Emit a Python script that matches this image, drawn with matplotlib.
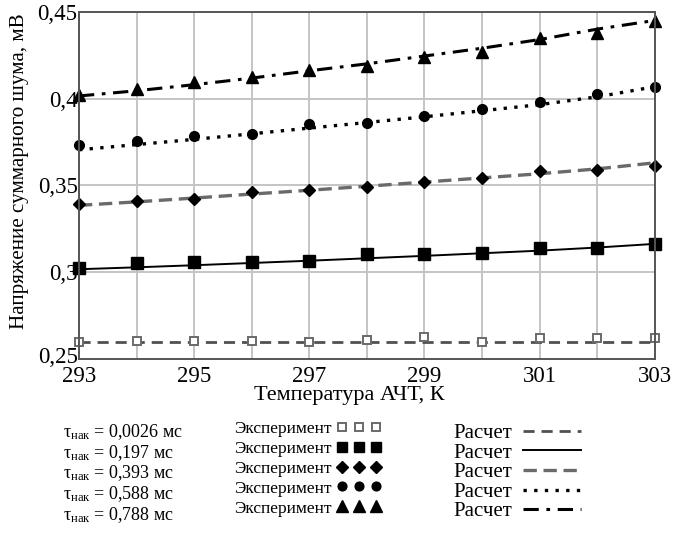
import matplotlib
matplotlib.use("Agg")
import matplotlib.pyplot as plt
import matplotlib.transforms as mtrans

plt.rcParams['font.family'] = ['Liberation Serif', 'DejaVu Serif']
plt.rcParams['mathtext.fontset'] = 'custom'
plt.rcParams['mathtext.rm'] = 'Liberation Serif'
plt.rcParams['mathtext.it'] = 'Liberation Serif:italic'

# температура АЧТ, К
temp = [293, 294, 295, 296, 297, 298, 299, 300, 301, 302, 303]

# эксперимент, мВ
exp1 = [0.2600, 0.2602, 0.2601, 0.2601, 0.2600, 0.2610, 0.2628, 0.2600, 0.2623, 0.2623, 0.2620]
exp2 = [0.3023, 0.3051, 0.3060, 0.3060, 0.3067, 0.3105, 0.3105, 0.3113, 0.3142, 0.3142, 0.3161]
exp3 = [0.3393, 0.3410, 0.3422, 0.3464, 0.3474, 0.3493, 0.3522, 0.3541, 0.3580, 0.3589, 0.3614]
exp4 = [0.3730, 0.3757, 0.3785, 0.3797, 0.3853, 0.3858, 0.3897, 0.3941, 0.3980, 0.4027, 0.4066]
exp5 = [0.4022, 0.4054, 0.4098, 0.4124, 0.4162, 0.4189, 0.4242, 0.4271, 0.4348, 0.4377, 0.4444]

# расчет, мВ
calc1 = [0.2598, 0.2598, 0.2598, 0.2598, 0.2598, 0.2598, 0.2598, 0.2598, 0.2598, 0.2598, 0.2598]
calc2 = [0.3017, 0.3028, 0.3040, 0.3053, 0.3066, 0.3080, 0.3094, 0.3109, 0.3124, 0.3142, 0.3163]
calc3 = [0.3385, 0.3405, 0.3427, 0.3450, 0.3472, 0.3495, 0.3519, 0.3543, 0.3567, 0.3595, 0.3630]
calc4 = [0.3705, 0.3735, 0.3765, 0.3797, 0.3830, 0.3862, 0.3895, 0.3930, 0.3965, 0.4010, 0.4068]
calc5 = [0.4015, 0.4045, 0.4080, 0.4118, 0.4160, 0.4200, 0.4245, 0.4290, 0.4340, 0.4400, 0.4450]

tau_labels = ["0,0026", "0,197", "0,393", "0,588", "0,788"]
yticks = [0.25, 0.30, 0.35, 0.40, 0.45]
ytick_labels = ["0,25", "0,3", "0,35", "0,4", "0,45"]

fig = plt.figure(figsize=(6.75, 5.35), dpi=100)
ax = fig.add_axes([0.117, 0.329, 0.853, 0.649])

grey = "#6a6a6a"
calc_lines = [
    ax.plot(temp, calc1, color="#505050", lw=2.0, ls=(0, (4, 2.5)))[0],
    ax.plot(temp, calc2, color="black", lw=1.4, ls="-")[0],
    ax.plot(temp, calc3, color=grey, lw=2.4, ls=(0, (4, 2)))[0],
    ax.plot(temp, calc4, color="black", lw=2.4, ls=(0, (1, 2.2)))[0],
    ax.plot(temp, calc5, color="black", lw=2.2, ls=(0, (5, 2.5, 1.2, 2.5)))[0],
]
exp_marks = [
    ax.plot(temp, exp1, ls="none", marker="s", ms=6, mfc="white", mec=grey, mew=1.4)[0],
    ax.plot(temp, exp2, ls="none", marker="s", ms=8, color="black")[0],
    ax.plot(temp, exp3, ls="none", marker="D", ms=6.5, color="black")[0],
    ax.plot(temp, exp4, ls="none", marker="o", ms=7, color="black")[0],
    ax.plot(temp, exp5, ls="none", marker="^", ms=9, color="black")[0],
]
for h in calc_lines + exp_marks:
    h.set_clip_on(False)

ax.set_xlim(293, 303)
ax.set_ylim(0.25, 0.45)
ax.set_xticks(range(293, 304, 2))
ax.set_xticks(range(294, 303, 2), minor=True)
ax.set_yticks(yticks)
ax.set_yticklabels(ytick_labels)
ax.grid(True, which="both", color="#c4c4c4", lw=1.4)
ax.set_axisbelow(True)
ax.tick_params(which="both", length=0, labelsize=16.5)
ax.tick_params(axis="y", pad=1)
ax.tick_params(axis="x", pad=5)
for s in ax.spines.values():
    s.set_color("#555555")
    s.set_linewidth(1.4)

# нижнюю подпись оси Y чуть выше, чтобы не наезжала на 293
lab0 = ax.get_yticklabels()[0]
lab0.set_transform(lab0.get_transform() +
                   mtrans.ScaledTranslation(0, 3 / 72, fig.dpi_scale_trans))

ax.set_xlabel("Температура АЧТ, К", fontsize=16)
ax.xaxis.set_label_coords(0.47, -0.077)
ax.set_ylabel("Напряжение суммарного шума, мВ", fontsize=15.2)
ax.yaxis.set_label_coords(-0.087, 0.54)

# подписи
tau_handles = [plt.Line2D([], [], ls="none") for _ in tau_labels]
fig.legend(tau_handles, ["τ$_{\\mathrm{нак}}$ = " + t + " мс" for t in tau_labels],
           loc="upper left", bbox_to_anchor=(0.082, 0.225), frameon=False,
           handlelength=0, handletextpad=0, fontsize=13, labelspacing=0.06,
           borderaxespad=0)
fig.legend(exp_marks, ["Эксперимент"] * 5, loc="upper left",
           bbox_to_anchor=(0.336, 0.227), frameon=False, markerfirst=False,
           numpoints=3, handlelength=2.6, handletextpad=0.3, fontsize=12.5,
           labelspacing=0.22, markerscale=0.9, borderaxespad=0)
fig.legend(calc_lines, ["Расчет"] * 5, loc="upper left",
           bbox_to_anchor=(0.66, 0.224), frameon=False, markerfirst=False,
           handlelength=2.8, handletextpad=0.5, fontsize=15, labelspacing=0.0,
           borderaxespad=0)

fig.savefig("out.png", dpi=100)
